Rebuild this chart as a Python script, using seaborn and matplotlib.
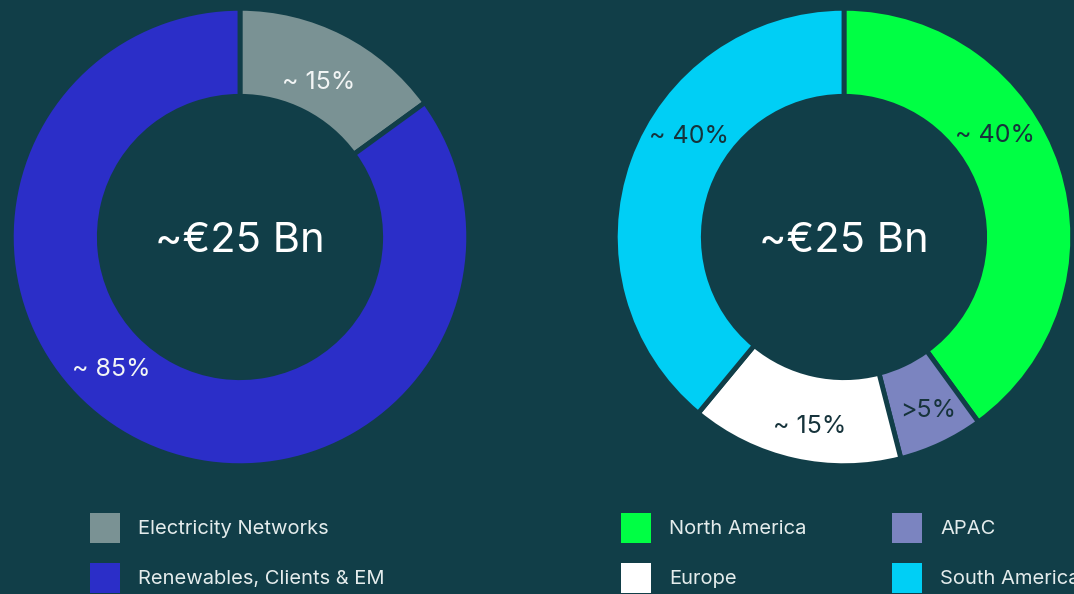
import numpy as np
import seaborn as sns
import matplotlib.pyplot as plt
from matplotlib.patches import Patch

# data
seg_names = ['Electricity Networks', 'Renewables, Clients & EM']
seg_values = [15, 85]
seg_labels = ['~ 15%', '~ 85%']
seg_colors = ['#7a9294', '#2b2ec8']

reg_names = ['North America', 'APAC', 'Europe', 'South America']
reg_values = [40, 6, 15, 39]
reg_labels = ['~ 40%', '>5%', '~ 15%', '~ 40%']
reg_colors = ['#00ff44', '#7b84c0', '#ffffff', '#00cff5']

center_text = '~€25 Bn'

# label placement: angle clockwise from top, radius as fraction of outer radius
seg_label_pos = [(26.6, 0.77), (224.6, 0.80)]
reg_label_pos = [(55.4, 0.80), (153.7, 0.833), (190.3, 0.83), (303.5, 0.815)]

bg = '#113e48'
sns.set_theme(style='white')
plt.rcParams['font.family'] = ['Inter', 'DejaVu Sans']

W, H = 1074, 594
fig = plt.figure(figsize=(W / 100, H / 100), dpi=100, facecolor=bg)


def donut(ax, values, colors, labels, pos, label_color):
    ax.set_facecolor(bg)
    ax.pie(values, colors=colors, startangle=90, counterclock=False, radius=1,
           wedgeprops=dict(width=0.385, edgecolor=bg, linewidth=3.5))
    for lab, (a, r) in zip(labels, pos):
        t = np.deg2rad(a)
        ax.text(r * np.sin(t), r * np.cos(t), lab, ha='center', va='center_baseline',
                fontsize=18, color=label_color)
    ax.text(0, 0, center_text, ha='center', va='center_baseline', fontsize=30,
            color='white')
    ax.set_xlim(-1.01, 1.01)
    ax.set_ylim(-1.01, 1.01)
    ax.set_aspect('equal')
    ax.axis('off')


r_px = 231
ax1 = fig.add_axes([(240 - r_px) / W, (H - 237 - r_px) / H, 2 * r_px / W, 2 * r_px / H])
donut(ax1, seg_values, seg_colors, seg_labels, seg_label_pos, '#f2f5f5')

ax2 = fig.add_axes([(844 - r_px) / W, (H - 237 - r_px) / H, 2 * r_px / W, 2 * r_px / H])
donut(ax2, reg_values, reg_colors, reg_labels, reg_label_pos, '#16333b')

leg_kw = dict(frameon=False, fontsize=14.5, labelcolor='#e4ecec', handlelength=1.49,
              handleheight=1.91, handletextpad=0.9, labelspacing=1.0,
              borderpad=0, borderaxespad=0, loc='upper left')

h1 = [Patch(facecolor=c, edgecolor='none') for c in seg_colors]
fig.legend(h1, seg_names, bbox_to_anchor=(90 / W, (H - 513) / H), **leg_kw)

order = [0, 2, 1, 3]
h2 = [Patch(facecolor=reg_colors[i], edgecolor='none') for i in order]
fig.legend(h2, [reg_names[i] for i in order], ncol=2, columnspacing=4.25,
           bbox_to_anchor=(621 / W, (H - 513) / H), **leg_kw)

fig.savefig('out.png', dpi=100, facecolor=bg)
